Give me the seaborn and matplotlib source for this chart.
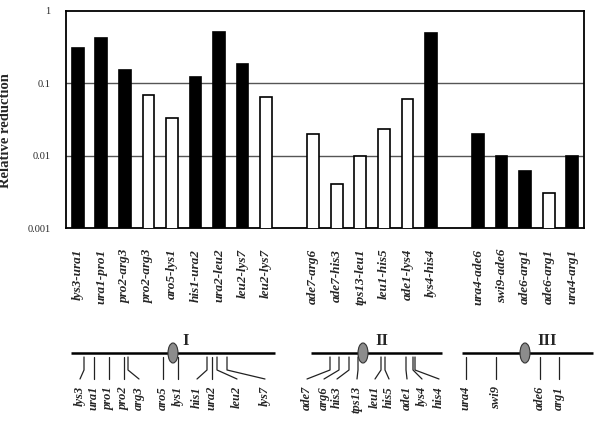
import matplotlib
matplotlib.use("Agg")
import matplotlib.pyplot as plt
from matplotlib.patches import Ellipse
import seaborn as sns
import pandas as pd
import numpy as np

# ---- bar data (None = empty slot) ----
labels = ["lys3-ura1", "ura1-pro1", "pro2-arg3", "pro2-arg3", "aro5-lys1", "his1-ura2",
          "ura2-leu2", "leu2-lys7", "leu2-lys7", "",
          "ade7-arg6", "ade7-his3", "tps13-leu1", "leu1-his5", "ade1-lys4", "lys4-his4", "",
          "ura4-ade6", "swi9-ade6", "ade6-arg1", "ade6-arg1", "ura4-arg1"]
values = [0.31, 0.43, 0.153, 0.069, 0.033, 0.121, 0.52, 0.185, 0.065, None,
          0.020, 0.0040, 0.010, 0.0236, 0.061, 0.49, None,
          0.020, 0.010, 0.0061, 0.0030, 0.010]
kinds = ["black", "black", "black", "white", "white", "black", "black", "black", "white", "black",
         "white", "white", "white", "white", "white", "black", "black",
         "black", "black", "black", "white", "black"]

# ---- chromosome map data ----
chrom_names = ["I", "II", "III"]
chrom_start = [71, 311, 462]
chrom_end = [275, 442, 593]
centromere_x = [173, 363, 525]
chrom_label_x = [186, 382, 547]
genes = ["lys3", "ura1", "pro1", "pro2", "arg3", "aro5", "lys1", "his1", "ura2", "leu2", "lys7",
         "ade7", "arg6", "his3", "tps13", "leu1", "his5", "ade1", "lys4", "his4",
         "ura4", "swi9", "ade6", "arg1"]
gene_x = [84, 94, 109, 124, 128, 163, 178, 207, 212, 217, 227,
          330, 339, 349, 358, 381, 385, 406, 413, 415,
          466, 496, 540, 559]
gene_label_x = [80, 94, 109, 124, 139, 163, 178, 197, 212, 237, 265,
                307, 324, 337, 357, 375, 389, 407, 422, 439,
                466, 496, 540, 559]

W, H = 602, 423
fig = plt.figure(figsize=(W / 100, H / 100), dpi=100)
sns.set_style("white")
plt.rcParams["font.family"] = ["Liberation Serif", "DejaVu Serif"]

slots = [f"s{i}" for i in range(len(labels))]
df = pd.DataFrame({"slot": slots, "value": [np.nan if v is None else v for v in values],
                   "kind": kinds})

ax_left, ax_top, ax_right, ax_bottom = 66, 11, 584, 228
ax = fig.add_axes([ax_left / W, 1 - ax_bottom / H, (ax_right - ax_left) / W, (ax_bottom - ax_top) / H])
sns.barplot(data=df, x="slot", y="value", hue="kind", order=slots,
            palette={"black": "black", "white": "white"}, dodge=False,
            edgecolor="black", linewidth=1.2, width=0.5, legend=False, ax=ax, zorder=3)
ax.set_yscale("log")
ax.set_ylim(0.001, 1)
ax.set_xlim(-0.5, len(slots) - 0.5)
ax.set_yticks([0.001, 0.01, 0.1, 1])
ax.set_yticklabels(["0.001", "0.01", "0.1", "1"], fontsize=7.5)
ax.yaxis.set_minor_locator(matplotlib.ticker.NullLocator())
ax.tick_params(axis="y", which="major", direction="out", length=4, width=1, pad=7)
for yv in [0.01, 0.1]:
    ax.axhline(yv, color="#555555", lw=1.0, zorder=1)

n = len(slots)
ax.set_xticks(np.arange(-0.5, n, 1.0))
ax.set_xticklabels([""] * len(np.arange(-0.5, n, 1.0)))
ax.set_xticks(np.arange(n), minor=True)
ax.set_xticklabels(labels, minor=True, rotation=90, fontsize=9.5, fontstyle="italic",
                   fontweight="bold", va="top", ha="center")
ax.tick_params(axis="x", which="major", direction="inout", length=5, width=1)
ax.tick_params(axis="x", which="minor", length=0, pad=15)
ax.set_xlabel("")
ax.set_ylabel("Relative reduction", fontsize=10.5, fontweight="bold")
ax.yaxis.set_label_coords((12 - ax_left) / (ax_right - ax_left),
                          (ax_bottom - 131) / (ax_bottom - ax_top))
for sp in ax.spines.values():
    sp.set_visible(True)
    sp.set_color("black")
    sp.set_linewidth(1.3)

# ---- chromosome map overlay ----
m = fig.add_axes([0, 0, 1, 1])
m.set_xlim(0, W)
m.set_ylim(H, 0)
m.axis("off")
m.patch.set_alpha(0)
chrom_y = 353
for name, x0, x1, cx, lx in zip(chrom_names, chrom_start, chrom_end, centromere_x, chrom_label_x):
    m.plot([x0, x1], [chrom_y, chrom_y], color="black", lw=1.8, solid_capstyle="butt", zorder=2)
    m.add_patch(Ellipse((cx, chrom_y), 10, 20, facecolor="#8c8c8c", edgecolor="#333333",
                        lw=0.8, zorder=3))
    m.text(lx, 341, name, fontsize=12, fontweight="bold", ha="center", va="center")
for g, gx, lx in zip(genes, gene_x, gene_label_x):
    if gx == lx:
        m.plot([gx, gx], [357, 379], color="#222222", lw=0.9)
    else:
        m.plot([gx, gx, lx], [357, 370, 379], color="#222222", lw=0.9)
    m.text(lx, 386, g, rotation=90, fontsize=9, fontstyle="italic", fontweight="bold",
           ha="center", va="top")

fig.savefig("out.png", dpi=100)
